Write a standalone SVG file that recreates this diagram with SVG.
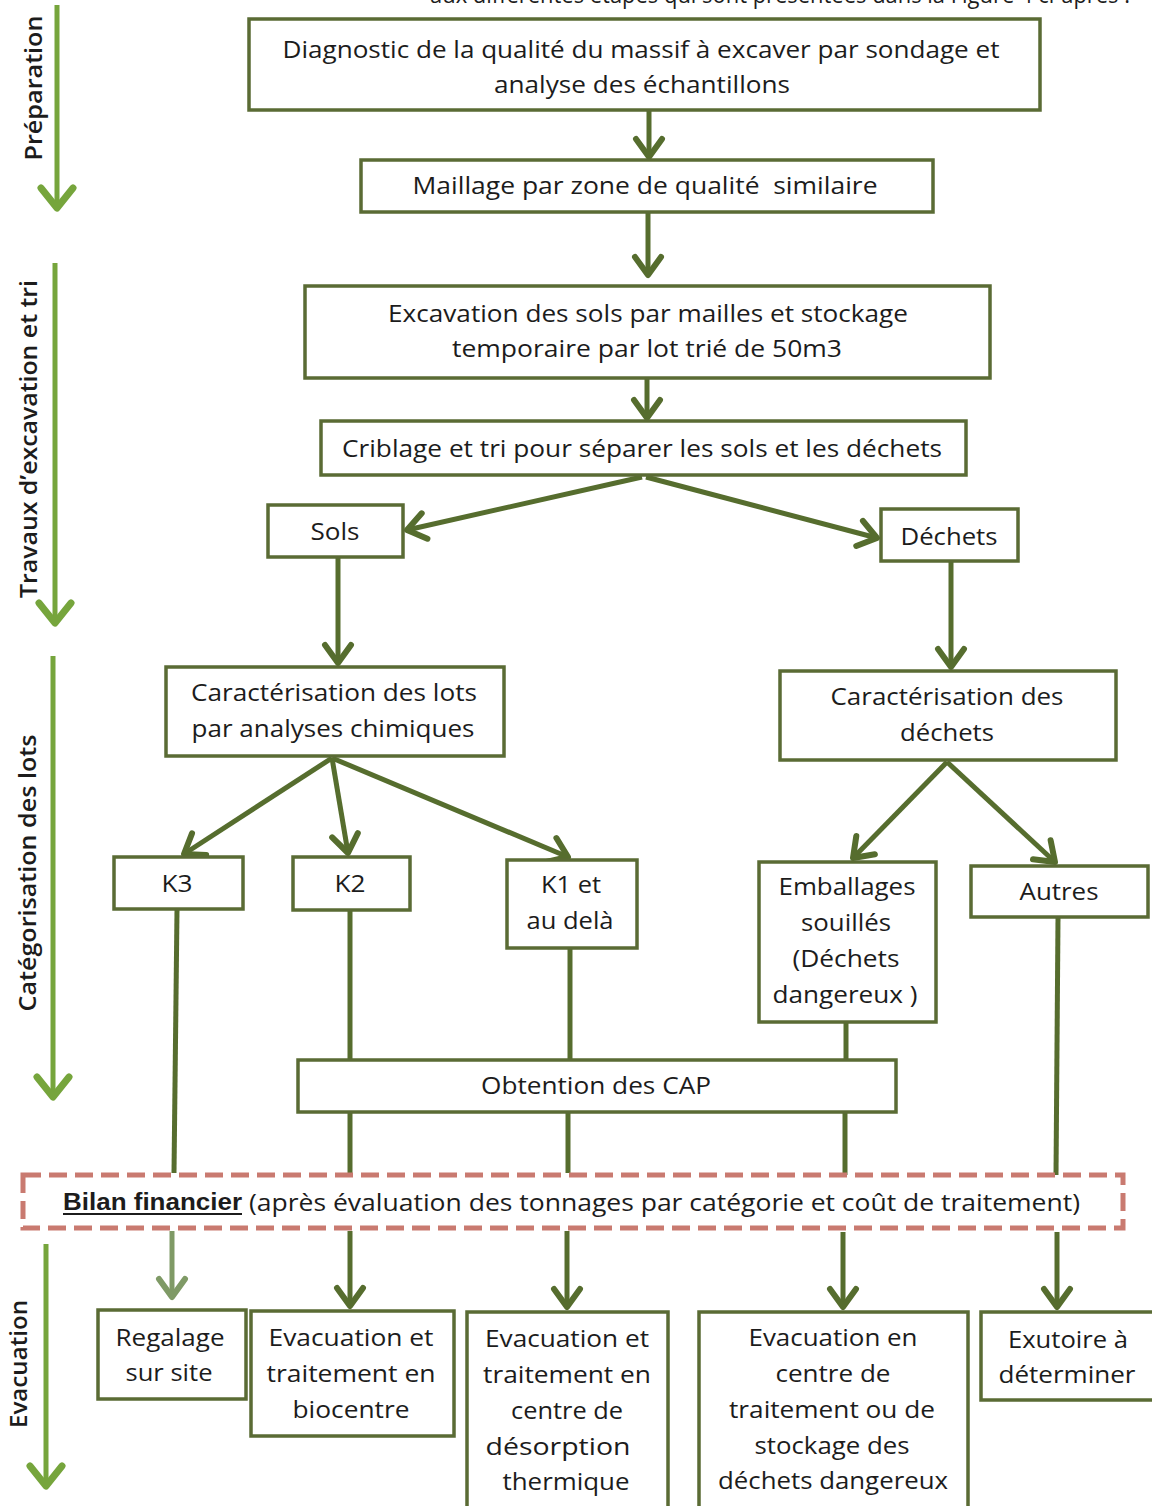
<svg xmlns="http://www.w3.org/2000/svg" width="1152" height="1506" viewBox="0 0 1152 1506">
<style>
.box{fill:#fff;stroke:#5a6b34;stroke-width:3.5}
.t{font-family:"Open Sans","Liberation Sans",sans-serif;font-size:24px;fill:#1c1c1c;text-anchor:middle}
.side{font-family:"Open Sans","Liberation Sans",sans-serif;font-size:24px;font-weight:600;fill:#1c1c1c;text-anchor:middle}
.c{stroke:#566d2e;stroke-width:5;fill:none}
.sa{stroke:#76a53c;stroke-width:5;fill:none}
</style>
<defs>
<marker id="ah" markerUnits="userSpaceOnUse" markerWidth="44" markerHeight="44" viewBox="-24 -22 30 44" refX="0" refY="0" orient="auto" overflow="visible">
<path d="M-18,-13 L0,0 L-18,13" fill="none" stroke="#566d2e" stroke-width="6" stroke-linecap="round" stroke-linejoin="round"/>
</marker>
<marker id="ahl" markerUnits="userSpaceOnUse" markerWidth="44" markerHeight="44" viewBox="-24 -22 30 44" refX="0" refY="0" orient="auto" overflow="visible">
<path d="M-18,-13 L0,0 L-18,13" fill="none" stroke="#7f9a66" stroke-width="6" stroke-linecap="round" stroke-linejoin="round"/>
</marker>
<marker id="sh" markerUnits="userSpaceOnUse" markerWidth="50" markerHeight="50" viewBox="-26 -25 30 50" refX="0" refY="0" orient="auto" overflow="visible">
<path d="M-20,-16 L0,0 L-20,16" fill="none" stroke="#76a53c" stroke-width="7" stroke-linecap="round" stroke-linejoin="round"/>
</marker>
</defs>
<rect width="1152" height="1506" fill="#fff"/>

<text x="780" y="3" class="t" font-size="22" textLength="700" lengthAdjust="spacingAndGlyphs">aux différentes étapes qui sont présentées dans la Figure 4 ci-après :</text>

<g id="side-labels">
<g id="lbl-preparation">
<line class="sa" x1="57" y1="5" x2="57" y2="208" marker-end="url(#sh)"/>
<text class="side" transform="translate(42,88) rotate(-90)" textLength="145" lengthAdjust="spacingAndGlyphs">Préparation</text>
</g>
<g id="lbl-travaux">
<line class="sa" x1="55" y1="263" x2="55" y2="623" marker-end="url(#sh)"/>
<text class="side" transform="translate(37,439) rotate(-90)" textLength="318" lengthAdjust="spacingAndGlyphs">Travaux d’excavation et tri</text>
</g>
<g id="lbl-categorisation">
<line class="sa" x1="53" y1="656" x2="53" y2="1097" marker-end="url(#sh)"/>
<text class="side" transform="translate(36,873) rotate(-90)" textLength="277" lengthAdjust="spacingAndGlyphs">Catégorisation des lots</text>
</g>
<g id="lbl-evacuation">
<line class="sa" x1="46" y1="1244" x2="46" y2="1486" marker-end="url(#sh)"/>
<text class="side" transform="translate(27,1364) rotate(-90)" textLength="128" lengthAdjust="spacingAndGlyphs">Evacuation</text>
</g>
</g>

<g id="connectors">
<line class="c" x1="649" y1="111" x2="649" y2="157" marker-end="url(#ah)"/>
<line class="c" x1="648" y1="213" x2="648" y2="275" marker-end="url(#ah)"/>
<line class="c" x1="647" y1="379" x2="647" y2="418" marker-end="url(#ah)"/>
<line class="c" x1="642" y1="477" x2="407" y2="530" marker-end="url(#ah)"/>
<line class="c" x1="646" y1="477" x2="877" y2="538" marker-end="url(#ah)"/>
<line class="c" x1="338" y1="558" x2="338" y2="663" marker-end="url(#ah)"/>
<line class="c" x1="951" y1="562" x2="951" y2="667" marker-end="url(#ah)"/>
<line class="c" x1="332" y1="758" x2="184" y2="854" marker-end="url(#ah)"/>
<line class="c" x1="332" y1="758" x2="348" y2="853" marker-end="url(#ah)"/>
<line class="c" x1="332" y1="758" x2="568" y2="857" marker-end="url(#ah)"/>
<line class="c" x1="947" y1="762" x2="853" y2="858" marker-end="url(#ah)"/>
<line class="c" x1="947" y1="762" x2="1055" y2="862" marker-end="url(#ah)"/>
<line class="c" x1="177" y1="910" x2="174" y2="1173"/>
<line class="c" x1="350" y1="911" x2="350" y2="1059"/>
<line class="c" x1="570" y1="949" x2="570" y2="1059"/>
<line class="c" x1="846" y1="1023" x2="846" y2="1059"/>
<line class="c" x1="350" y1="1113" x2="350" y2="1173"/>
<line class="c" x1="568" y1="1113" x2="568" y2="1173"/>
<line class="c" x1="845" y1="1113" x2="845" y2="1175"/>
<line class="c" x1="1058" y1="918" x2="1056" y2="1176"/>
<line x1="172" y1="1231" x2="172" y2="1297" stroke="#7f9a66" stroke-width="5" marker-end="url(#ahl)"/>
<line class="c" x1="350" y1="1231" x2="350" y2="1306" marker-end="url(#ah)"/>
<line class="c" x1="567" y1="1231" x2="567" y2="1307" marker-end="url(#ah)"/>
<line class="c" x1="843" y1="1232" x2="843" y2="1307" marker-end="url(#ah)"/>
<line class="c" x1="1057" y1="1232" x2="1057" y2="1307" marker-end="url(#ah)"/>
</g>

<g id="n-diagnostic">
<rect class="box" x="249" y="19" width="791" height="91"/>
<text class="t" x="641" y="58" textLength="717" lengthAdjust="spacingAndGlyphs">Diagnostic de la qualité du massif à excaver par sondage et</text>
<text class="t" x="642" y="93" textLength="296" lengthAdjust="spacingAndGlyphs">analyse des échantillons</text>
</g>
<g id="n-maillage">
<rect class="box" x="361" y="160" width="572" height="52"/>
<text class="t" x="645" y="194" textLength="465" lengthAdjust="spacingAndGlyphs" xml:space="preserve">Maillage par zone de qualité  similaire</text>
</g>
<g id="n-excavation">
<rect class="box" x="305" y="286" width="685" height="92"/>
<text class="t" x="648" y="322" textLength="520" lengthAdjust="spacingAndGlyphs">Excavation des sols par mailles et stockage</text>
<text class="t" x="647" y="357" textLength="390" lengthAdjust="spacingAndGlyphs">temporaire par lot trié de 50m3</text>
</g>
<g id="n-criblage">
<rect class="box" x="321" y="421" width="645" height="54"/>
<text class="t" x="642" y="457" textLength="600" lengthAdjust="spacingAndGlyphs">Criblage et tri pour séparer les sols et les déchets</text>
</g>
<g id="n-sols">
<rect class="box" x="268" y="505" width="135" height="52"/>
<text class="t" x="335" y="540" textLength="49" lengthAdjust="spacingAndGlyphs">Sols</text>
</g>
<g id="n-dechets">
<rect class="box" x="881" y="509" width="137" height="52"/>
<text class="t" x="949" y="545" textLength="97" lengthAdjust="spacingAndGlyphs">Déchets</text>
</g>
<g id="n-caract-lots">
<rect class="box" x="166" y="667" width="338" height="89"/>
<text class="t" x="334" y="701" textLength="286" lengthAdjust="spacingAndGlyphs">Caractérisation des lots</text>
<text class="t" x="333" y="737" textLength="283" lengthAdjust="spacingAndGlyphs">par analyses chimiques</text>
</g>
<g id="n-caract-dechets">
<rect class="box" x="780" y="671" width="336" height="89"/>
<text class="t" x="947" y="705" textLength="233" lengthAdjust="spacingAndGlyphs">Caractérisation des</text>
<text class="t" x="947" y="741" textLength="94" lengthAdjust="spacingAndGlyphs">déchets</text>
</g>
<g id="n-k3">
<rect class="box" x="114" y="857" width="129" height="52"/>
<text class="t" x="177" y="892" textLength="31" lengthAdjust="spacingAndGlyphs">K3</text>
</g>
<g id="n-k2">
<rect class="box" x="293" y="857" width="117" height="53"/>
<text class="t" x="350" y="892" textLength="31" lengthAdjust="spacingAndGlyphs">K2</text>
</g>
<g id="n-k1">
<rect class="box" x="507" y="860" width="130" height="88"/>
<text class="t" x="571" y="893" textLength="60" lengthAdjust="spacingAndGlyphs">K1 et</text>
<text class="t" x="570" y="929" textLength="87" lengthAdjust="spacingAndGlyphs">au delà</text>
</g>
<g id="n-emballages">
<rect class="box" x="759" y="862" width="177" height="160"/>
<text class="t" x="847" y="895" textLength="137" lengthAdjust="spacingAndGlyphs">Emballages</text>
<text class="t" x="846" y="931" textLength="90" lengthAdjust="spacingAndGlyphs">souillés</text>
<text class="t" x="846" y="967" textLength="107" lengthAdjust="spacingAndGlyphs">(Déchets</text>
<text class="t" x="845" y="1003" textLength="145" lengthAdjust="spacingAndGlyphs">dangereux )</text>
</g>
<g id="n-autres">
<rect class="box" x="971" y="866" width="177" height="51"/>
<text class="t" x="1059" y="900" textLength="79" lengthAdjust="spacingAndGlyphs">Autres</text>
</g>
<g id="n-cap">
<rect class="box" x="298" y="1060" width="598" height="52"/>
<text class="t" x="596" y="1094" textLength="230" lengthAdjust="spacingAndGlyphs">Obtention des CAP</text>
</g>
<g id="n-bilan">
<rect x="23" y="1175" width="1100" height="53" fill="#fff" stroke="#c97a70" stroke-width="5" stroke-dasharray="18 8"/>
<text x="63" y="1210" font-family="'Liberation Sans',Arial,sans-serif" font-size="23" font-weight="bold" fill="#1c1c1c" textLength="179" lengthAdjust="spacingAndGlyphs">Bilan financier</text>
<line x1="63" y1="1214" x2="242" y2="1214" stroke="#1c1c1c" stroke-width="2"/>
<text x="249" y="1211" font-family="'Open Sans','Liberation Sans',sans-serif" font-size="24" fill="#1c1c1c" textLength="831" lengthAdjust="spacingAndGlyphs">(après évaluation des tonnages par catégorie et coût de traitement)</text>
</g>
<g id="n-regalage">
<rect class="box" x="98" y="1310" width="148" height="89"/>
<text class="t" x="170" y="1346" textLength="109" lengthAdjust="spacingAndGlyphs">Regalage</text>
<text class="t" x="169" y="1381" textLength="87" lengthAdjust="spacingAndGlyphs">sur site</text>
</g>
<g id="n-biocentre">
<rect class="box" x="251" y="1311" width="203" height="125"/>
<text class="t" x="351" y="1346" textLength="165" lengthAdjust="spacingAndGlyphs">Evacuation et</text>
<text class="t" x="351" y="1382" textLength="169" lengthAdjust="spacingAndGlyphs">traitement en</text>
<text class="t" x="351" y="1418" textLength="117" lengthAdjust="spacingAndGlyphs">biocentre</text>
</g>
<g id="n-desorption">
<rect class="box" x="467" y="1312" width="201" height="200"/>
<text class="t" x="567" y="1347" textLength="164" lengthAdjust="spacingAndGlyphs">Evacuation et</text>
<text class="t" x="567" y="1383" textLength="168" lengthAdjust="spacingAndGlyphs">traitement en</text>
<text class="t" x="567" y="1419" textLength="112" lengthAdjust="spacingAndGlyphs">centre de</text>
<text class="t" x="558" y="1455" textLength="145" lengthAdjust="spacingAndGlyphs">désorption</text>
<text class="t" x="566" y="1490" textLength="127" lengthAdjust="spacingAndGlyphs">thermique</text>
</g>
<g id="n-centre-dangereux">
<rect class="box" x="699" y="1312" width="269" height="200"/>
<text class="t" x="833" y="1346" textLength="169" lengthAdjust="spacingAndGlyphs">Evacuation en</text>
<text class="t" x="833" y="1382" textLength="115" lengthAdjust="spacingAndGlyphs">centre de</text>
<text class="t" x="832" y="1418" textLength="206" lengthAdjust="spacingAndGlyphs">traitement ou de</text>
<text class="t" x="832" y="1454" textLength="155" lengthAdjust="spacingAndGlyphs">stockage des</text>
<text class="t" x="833" y="1489" textLength="230" lengthAdjust="spacingAndGlyphs">déchets dangereux</text>
</g>
<g id="n-exutoire">
<rect class="box" x="981" y="1312" width="180" height="88"/>
<text class="t" x="1068" y="1348" textLength="120" lengthAdjust="spacingAndGlyphs">Exutoire à</text>
<text class="t" x="1067" y="1383" textLength="137" lengthAdjust="spacingAndGlyphs">déterminer</text>
</g>
</svg>
